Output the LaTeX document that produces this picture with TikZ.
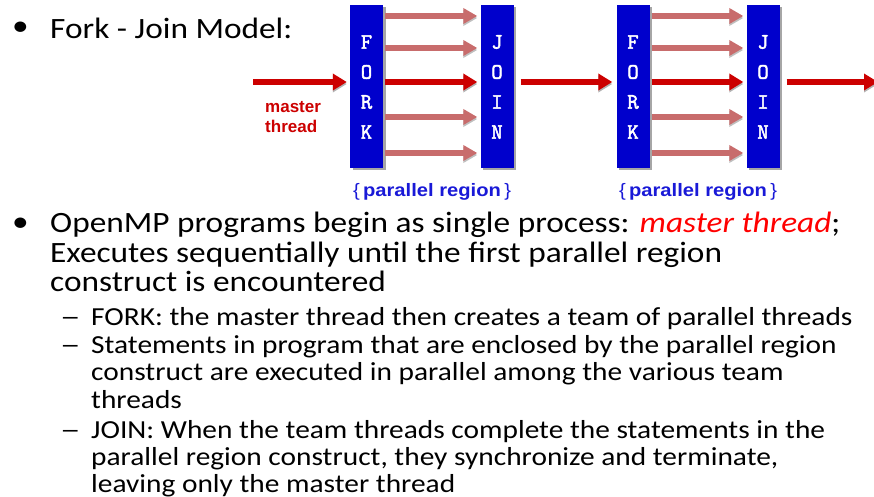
\documentclass[tikz,border=0pt]{standalone}
\usepackage{fontspec}
\usepackage{graphicx}
\setmainfont{Carlito}
\newfontfamily\arialfont{Liberation Sans}
\newfontfamily\barfont[FakeBold=2.5]{Latin Modern Mono}
\usetikzlibrary{arrows.meta,shadows}
\definecolor{boxblue}{RGB}{0,0,204}
\definecolor{darkred}{RGB}{204,0,0}
\definecolor{lightred}{RGB}{200,108,108}
\definecolor{labelblue}{RGB}{25,25,215}
\definecolor{txtred}{RGB}{255,0,0}
\newcommand\stretchtxt[1]{\scalebox{1.13}[1]{#1}}
\newcommand\widedash{\scalebox{1.4}[1]{–}}
\tikzset{
  barbox/.style={fill=boxblue, draw=none, minimum width=33pt, minimum height=163pt, inner sep=0pt,
    drop shadow={shadow xshift=2.5pt, shadow yshift=-2pt, opacity=0.35, fill=black}},
  barletter/.style={text=white, font=\barfont\fontsize{22}{22}\selectfont, inner sep=0pt},
  mainarrow/.style={draw=darkred, line width=6pt, -{Triangle[length=14pt,width=16pt]},
    preaction={draw=black!30, transform canvas={yshift=-2pt}}},
  thrarrow/.style={draw=lightred, line width=6pt, -{Triangle[length=14pt,width=15pt]},
    preaction={draw=black!25, transform canvas={yshift=-2pt}}},
  mlabel/.style={anchor=base west, inner sep=0pt, text=darkred, font=\arialfont\bfseries\fontsize{17}{20}\selectfont},
  plabel/.style={anchor=base, inner sep=0pt, text=labelblue, font=\arialfont\bfseries\fontsize{18}{20}\selectfont},
  lvlone/.style={anchor=base west, inner sep=0pt, font=\fontsize{29.5}{35}\selectfont},
  lvltwo/.style={anchor=base west, inner sep=0pt, font=\fontsize{26}{30}\selectfont},
}
\begin{document}
\begin{tikzpicture}[x=1pt,y=-1pt]
\useasboundingbox (0,0) rectangle (874,497);
\clip (0,0) rectangle (874,497);
% bars
\node[barbox] (f1) at (366.5,86.5) {};
\node[barbox] (j1) at (497,86.5) {};
\node[barbox] (f2) at (633,86.5) {};
\node[barbox] (j2) at (763,86.5) {};
% letters
\node[barletter] (f1l1) at (f1.center |- 0,42) {F};
\node[barletter] (f1l2) at (f1.center |- 0,72) {O};
\node[barletter] (f1l3) at (f1.center |- 0,102) {R};
\node[barletter] (f1l4) at (f1.center |- 0,132) {K};
\node[barletter] (j1l1) at (j1.center |- 0,42) {J};
\node[barletter] (j1l2) at (j1.center |- 0,72) {O};
\node[barletter] (j1l3) at (j1.center |- 0,102) {I};
\node[barletter] (j1l4) at (j1.center |- 0,132) {N};
\node[barletter] (f2l1) at (f2.center |- 0,42) {F};
\node[barletter] (f2l2) at (f2.center |- 0,72) {O};
\node[barletter] (f2l3) at (f2.center |- 0,102) {R};
\node[barletter] (f2l4) at (f2.center |- 0,132) {K};
\node[barletter] (j2l1) at (j2.center |- 0,42) {J};
\node[barletter] (j2l2) at (j2.center |- 0,72) {O};
\node[barletter] (j2l3) at (j2.center |- 0,102) {I};
\node[barletter] (j2l4) at (j2.center |- 0,132) {N};
% main thread arrows
\coordinate (src) at (253,82);
\coordinate (snk) at (878,82);
\draw[mainarrow, shorten >=3pt] (src) -- (f1.west |- src);
\draw[mainarrow, shorten <=2pt, shorten >=3pt] (f1.east |- src) -- (j1.west |- src);
\draw[mainarrow, shorten <=7pt, shorten >=4pt] (j1.east |- src) -- (f2.west |- src);
\draw[mainarrow, shorten <=2pt, shorten >=3pt] (f2.east |- src) -- (j2.west |- src);
\draw[mainarrow, shorten <=7pt] (j2.east |- src) -- (snk);
% team thread arrows
\foreach \yy in {16,48,117,153}{
  \draw[thrarrow, shorten <=2pt, shorten >=3pt] (f1.east |- 0,\yy) -- (j1.west |- 0,\yy);
  \draw[thrarrow, shorten <=2pt, shorten >=3pt] (f2.east |- 0,\yy) -- (j2.west |- 0,\yy);
}
% labels
\node[mlabel] (mt1) at (265,113) {master};
\node[mlabel] (mt2) at (265,133) {thread};
\node[plabel] (pr1) at (432,196) {\scalebox{1.12}[1]{{\mdseries\{}\,parallel region\,{\mdseries\}}}};
\node[plabel] (pr2) at (698,196) {\scalebox{1.12}[1]{{\mdseries\{}\,parallel region\,{\mdseries\}}}};
% text
\node[lvlone] (b1) at (12,36) {\stretchtxt{•}};
\node[lvlone] (t1) at (50,39) {\stretchtxt{Fork - Join Model:}};
\node[lvlone] (b2) at (12,231) {\stretchtxt{•}};
\node[lvlone] (l1a) at (50,232) {\stretchtxt{OpenMP programs begin as single process: \textcolor{txtred}{\itshape master thread};}};
\node[lvlone] (l1b) at (50,262) {\stretchtxt{Executes sequentially until the first parallel region}};
\node[lvlone] (l1c) at (50,291) {\stretchtxt{construct is encountered}};
\node[lvltwo] (d1) at (60,325) {\stretchtxt{\widedash}};
\node[lvltwo] (l2a) at (91,325) {\stretchtxt{FORK: the master thread then creates a team of parallel threads}};
\node[lvltwo] (d2) at (60,353) {\stretchtxt{\widedash}};
\node[lvltwo] (l2b) at (91,353) {\stretchtxt{Statements in program that are enclosed by the parallel region}};
\node[lvltwo] (l2c) at (91,380) {\stretchtxt{construct are executed in parallel among the various team}};
\node[lvltwo] (l2d) at (91,408) {\stretchtxt{threads}};
\node[lvltwo] (d3) at (60,438) {\stretchtxt{\widedash}};
\node[lvltwo] (l2e) at (91,438) {\stretchtxt{JOIN: When the team threads complete the statements in the}};
\node[lvltwo] (l2f) at (91,465) {\stretchtxt{parallel region construct, they synchronize and terminate,}};
\node[lvltwo] (l2g) at (91,492) {\stretchtxt{leaving only the master thread}};
\end{tikzpicture}
\end{document}
